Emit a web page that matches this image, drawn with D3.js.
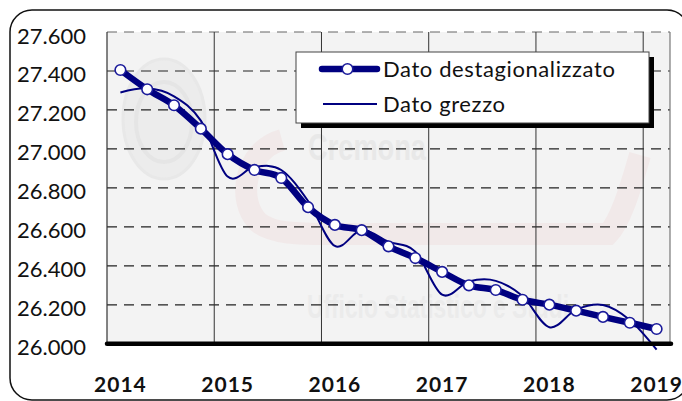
<!DOCTYPE html>
<html><head><meta charset="utf-8">
<script src="https://cdn.jsdelivr.net/npm/d3@7"></script>
<style>html,body{margin:0;padding:0;background:#fff;} svg{display:block;}</style>
</head><body>
<svg id="chart" width="682" height="401"></svg>
<script>
// ---- data ----
const quarters = [
  "I-2014","II-2014","III-2014","IV-2014",
  "I-2015","II-2015","III-2015","IV-2015",
  "I-2016","II-2016","III-2016","IV-2016",
  "I-2017","II-2017","III-2017","IV-2017",
  "I-2018","II-2018","III-2018","IV-2018",
  "I-2019"
];
const yearLabels = ["2014","2015","2016","2017","2018","2019"];
const destagionalizzato = [27405,27306,27224,27104,26973,26892,26851,26701,26610,26583,26500,26440,26369,26300,26276,26226,26201,26170,26138,26108,26076];
const grezzo = [27290,27311,27270,27145,26858,26908,26892,26733,26502,26584,26524,26473,26252,26320,26323,26245,26085,26175,26199,26122,25970];
const yTicks = [26000,26200,26400,26600,26800,27000,27200,27400,27600];
const seriesNames = ["Dato destagionalizzato","Dato grezzo"];

// ---- layout ----
const svg = d3.select("#chart");
const L = 107, R = 670, T = 32, B = 343.8;
const navy = "#000080";
const fontFam = "Lato, 'Open Sans', sans-serif";

const x = d3.scaleBand().domain(quarters).range([L, R]).padding(0);
const y = d3.scaleLinear().domain([26000, 27600]).range([B, T]);
const cx = q => x(q) + x.bandwidth() / 2;

const it = d3.formatLocale({decimal: ",", thousands: ".", grouping: [3], currency: ["€", ""]});
const fmt = it.format(",d");

// outer rounded frame
svg.append("rect").attr("x", 10).attr("y", 10).attr("width", 679).attr("height", 390)
  .attr("rx", 22).attr("ry", 22).attr("fill", "#fff").attr("stroke", "#111").attr("stroke-width", 1.5);

// plot background
svg.append("rect").attr("x", L).attr("y", T).attr("width", R - L).attr("height", B - T).attr("fill", "#f3f3f3");

// watermark (very faint)
const wm = svg.append("g").attr("class", "watermark");
wm.append("ellipse").attr("cx", 164).attr("cy", 119).attr("rx", 41).attr("ry", 60)
  .attr("fill", "#ececec").attr("stroke", "#e8e8e8").attr("stroke-width", 3);
wm.append("ellipse").attr("cx", 164).attr("cy", 122).attr("rx", 28).attr("ry", 40)
  .attr("fill", "none").attr("stroke", "#e5e5e5").attr("stroke-width", 4);
wm.append("path")
  .attr("d", "M282,140 C245,150 236,200 258,222 C272,234 300,234 330,234 L608,234 C620,222 630,190 640,155")
  .attr("fill", "none").attr("stroke", "rgba(220,80,80,0.06)").attr("stroke-width", 22);
wm.append("text").attr("x", 308).attr("y", 160).attr("textLength", 118).attr("lengthAdjust", "spacingAndGlyphs")
  .attr("font-family", "'Liberation Sans Narrow', 'Liberation Sans', sans-serif").attr("font-weight", "bold")
  .attr("font-size", 36).attr("fill", "#e8e8e8").text("Cremona");
wm.append("text").attr("x", 307).attr("y", 318).attr("textLength", 262).attr("lengthAdjust", "spacingAndGlyphs")
  .attr("font-family", "'Liberation Sans Narrow', 'Liberation Sans', sans-serif").attr("font-weight", "bold")
  .attr("font-size", 34).attr("fill", "#ebebeb").text("Ufficio Statistico e Studi");

// horizontal dashed gridlines
svg.append("g").selectAll("line").data(yTicks.filter(v => v > 26000)).join("line")
  .attr("x1", L).attr("x2", R).attr("y1", d => y(d)).attr("y2", d => y(d))
  .attr("stroke", d => d === 27600 ? "#666" : "#222").attr("stroke-width", 1.2).attr("stroke-dasharray", "10,7");

// vertical year gridlines
svg.append("g").selectAll("line").data(yearLabels.slice(1)).join("line")
  .attr("x1", d => x("I-" + d)).attr("x2", d => x("I-" + d)).attr("y1", T).attr("y2", B)
  .attr("stroke", "#333").attr("stroke-width", 1);

// plot borders left/right
svg.append("line").attr("x1", L).attr("x2", L).attr("y1", T).attr("y2", B).attr("stroke", "#333").attr("stroke-width", 1.2);
svg.append("line").attr("x1", R).attr("x2", R).attr("y1", T).attr("y2", B).attr("stroke", "#777").attr("stroke-width", 1.2);

// y axis labels
const yAxis = d3.axisLeft(y).tickValues(yTicks).tickFormat(fmt).tickSize(0).tickPadding(21);
const gy = svg.append("g").attr("transform", `translate(${L},0)`).call(yAxis);
gy.select(".domain").remove();
gy.selectAll("text").attr("font-family", fontFam).attr("font-size", 22).attr("fill", "#111").attr("dy", "0.5em");

// x axis labels
const xAxis = d3.axisBottom(x).tickValues(yearLabels.map(d => "I-" + d)).tickFormat(d => d.split("-")[1]).tickSize(0).tickPadding(33);
const gx = svg.append("g").attr("transform", `translate(0,${B})`).call(xAxis);
gx.select(".domain").remove();
gx.selectAll("text").attr("font-family", fontFam).attr("font-weight", "bold").attr("font-size", 21)
  .attr("letter-spacing", 1).attr("fill", "#111");

// series
const curve = d3.curveCardinal.tension(0);
const lineGen = d3.line().x((d, i) => cx(quarters[i])).y(d => y(d)).curve(curve);

svg.append("path").datum(grezzo).attr("d", lineGen)
  .attr("fill", "none").attr("stroke", navy).attr("stroke-width", 2);
svg.append("path").datum(destagionalizzato).attr("d", lineGen)
  .attr("fill", "none").attr("stroke", navy).attr("stroke-width", 6.5).attr("stroke-linejoin", "round");
svg.append("g").selectAll("circle").data(destagionalizzato).join("circle")
  .attr("cx", (d, i) => cx(quarters[i])).attr("cy", d => y(d)).attr("r", 5.3)
  .attr("fill", "#fff").attr("stroke", "#1a1a9a").attr("stroke-width", 1.6);

// bottom axis thick line
svg.append("line").attr("x1", L).attr("x2", R + 1).attr("y1", B).attr("y2", B)
  .attr("stroke", "#000").attr("stroke-width", 4.5).attr("stroke-linecap", "round");

// legend
const lg = svg.append("g");
lg.append("rect").attr("x", 301).attr("y", 57).attr("width", 353).attr("height", 71).attr("fill", "#000");
lg.append("rect").attr("x", 296).attr("y", 52).attr("width", 353).attr("height", 71)
  .attr("fill", "#fff").attr("stroke", "#444").attr("stroke-width", 1);
lg.append("line").attr("x1", 322).attr("x2", 377).attr("y1", 69).attr("y2", 69)
  .attr("stroke", navy).attr("stroke-width", 6.5).attr("stroke-linecap", "round");
lg.append("circle").attr("cx", 347.5).attr("cy", 69).attr("r", 5.3)
  .attr("fill", "#fff").attr("stroke", "#1a1a9a").attr("stroke-width", 1.6);
lg.append("line").attr("x1", 323).attr("x2", 377).attr("y1", 104).attr("y2", 104)
  .attr("stroke", navy).attr("stroke-width", 2);
lg.selectAll("text.lt").data(seriesNames).join("text").attr("class", "lt")
  .attr("x", 383).attr("y", (d, i) => 77 + i * 35)
  .attr("font-family", fontFam).attr("font-size", 22).attr("fill", "#111")
  .attr("letter-spacing", 0.6).text(d => d);
</script>
</body></html>
